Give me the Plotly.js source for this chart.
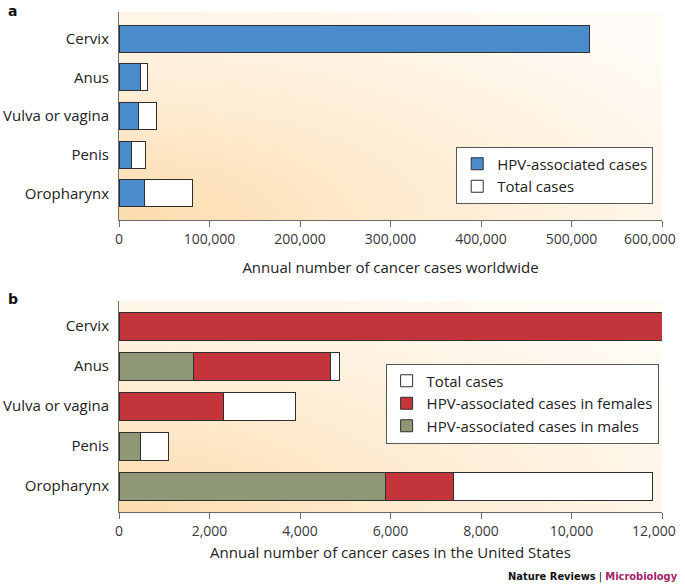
<!DOCTYPE html>
<html>
<head>
<meta charset="utf-8">
<script src="https://cdn.plot.ly/plotly-3.0.1.min.js"></script>
<style>
  html, body { margin: 0; padding: 0; background: #ffffff; }
  #chart { width: 685px; height: 586px; }
</style>
</head>
<body>
<div id="chart"></div>
<script>
// ---- Data ----
const categories = ["Cervix", "Anus", "Vulva or vagina", "Penis", "Oropharynx"];

// Panel a: worldwide
const worldHPV   = [520000, 24000, 21000, 14000, 28000];
const worldTotal = [520000, 32000, 41000, 29000, 81000];

// Panel b: United States
const usMale   = [0, 1640, 0, 480, 5880];
const usFemale = [12000, 3030, 2300, 0, 1510];
const usTotal  = [12000, 4880, 3890, 1090, 11790];

const worldTicks = [0, 100000, 200000, 300000, 400000, 500000, 600000];
const worldTickText = ["0", "100,000", "200,000", "300,000", "400,000", "500,000", "600,000"];
const usTicks = [0, 2000, 4000, 6000, 8000, 10000, 12000];
const usTickText = ["0", "2,000", "4,000", "6,000", "8,000", "10,000", "12,000"];

// ---- Derived stacks ----
const worldRest = worldTotal.map((t, i) => Math.max(t - worldHPV[i], 0));
const usRest = usTotal.map((t, i) => Math.max(t - usMale[i] - usFemale[i], 0));

// the last tick label is drawn as an annotation nudged left so it stays inside the page
const lastOf = a => a[a.length - 1];
const allButLast = a => a.map((t, i) => i === a.length - 1 ? "" : t);

const FONT = "'Open Sans', 'Noto Sans', sans-serif";
const TICKFONT = { family: FONT, size: 14, color: "#383838" };
const edge = { color: "#2e2e2e", width: 1 };

const traces = [
  { type: "bar", orientation: "h", y: categories, x: worldHPV, name: "HPV-associated cases",
    marker: { color: "#4a8bcb", line: edge }, xaxis: "x", yaxis: "y", legend: "legend" },
  { type: "bar", orientation: "h", y: categories, x: worldRest, name: "Total cases",
    marker: { color: "#ffffff", line: edge }, xaxis: "x", yaxis: "y", legend: "legend" },
  { type: "bar", orientation: "h", y: categories, x: usMale, name: "HPV-associated cases in males",
    marker: { color: "#8e9877", line: edge }, xaxis: "x2", yaxis: "y2", legend: "legend2" },
  { type: "bar", orientation: "h", y: categories, x: usFemale, name: "HPV-associated cases in females",
    marker: { color: "#c4343b", line: edge }, xaxis: "x2", yaxis: "y2", legend: "legend2" },
  { type: "bar", orientation: "h", y: categories, x: usRest, name: "Total cases",
    marker: { color: "#ffffff", line: edge }, xaxis: "x2", yaxis: "y2", legend: "legend2" }
];

const svg = "<svg xmlns='http://www.w3.org/2000/svg' width='100' height='100' preserveAspectRatio='none'>" +
  "<defs><radialGradient id='g' cx='0' cy='1' r='1.25'>" +
  "<stop offset='0' stop-color='#fcdcad'/><stop offset='0.45' stop-color='#feecd2'/>" +
  "<stop offset='1' stop-color='#fffbf6'/></radialGradient></defs>" +
  "<rect width='100' height='100' fill='url(#g)'/></svg>";
const bg = "data:image/svg+xml;charset=utf-8," + encodeURIComponent(svg);

const axisX = (ticks, labels, title, standoff) => ({
  range: [ticks[0], ticks[ticks.length - 1]],
  tickmode: "array", tickvals: ticks, ticktext: labels,
  showgrid: false, zeroline: false,
  showline: true, linecolor: "#6b6b6b", linewidth: 1,
  ticks: "outside", ticklen: 6, tickcolor: "#6b6b6b",
  tickfont: TICKFONT,
  title: { text: title, font: { family: FONT, size: 15, color: "#222" }, standoff: standoff },
  fixedrange: true
});
const axisY = (range, domain) => ({
  type: "category", range: range, domain: domain,
  showgrid: false, zeroline: false,
  showline: true, linecolor: "#6b6b6b", linewidth: 1,
  ticks: "", ticklabelstandoff: 6,
  tickfont: { family: FONT, size: 15, color: "#222" },
  fixedrange: true
});

const legendStyle = {
  bgcolor: "#ffffff", bordercolor: "#555", borderwidth: 1,
  font: { family: FONT, size: 15, color: "#222" },
  xanchor: "left", yanchor: "top"
};

const lastTick = (xref, yref, ticks, labels) => ({
  text: lastOf(labels), xref: xref, yref: yref, x: lastOf(ticks), y: 0,
  xanchor: "right", yanchor: "top", xshift: 16, yshift: -6.5,
  showarrow: false, font: TICKFONT
});

const layout = {
  width: 685, height: 586,
  margin: { l: 119, r: 23, t: 12, b: 74 },
  paper_bgcolor: "#ffffff", plot_bgcolor: "rgba(0,0,0,0)",
  barmode: "stack", bargap: 0.3,
  font: { family: FONT, color: "#222" },
  xaxis: Object.assign(axisX(worldTicks, allButLast(worldTickText), "Annual number of cancer cases worldwide", 15), { anchor: "y" }),
  yaxis: Object.assign(axisY([4.69, -0.69], [0.584, 1]), { anchor: "x" }),
  xaxis2: Object.assign(axisX(usTicks, allButLast(usTickText), "Annual number of cancer cases in the United States", 8), { anchor: "y2" }),
  yaxis2: Object.assign(axisY([4.65, -0.63], [0, 0.422]), { anchor: "x2" }),
  legend: Object.assign({}, legendStyle, { x: 0.621, y: 0.731, traceorder: "normal" }),
  legend2: Object.assign({}, legendStyle, { x: 0.491, y: 0.297, traceorder: "reversed" }),
  images: [
    { source: bg, xref: "paper", yref: "paper", x: 0, y: 1, sizex: 1, sizey: 0.416,
      xanchor: "left", yanchor: "top", sizing: "stretch", layer: "below" },
    { source: bg, xref: "paper", yref: "paper", x: 0, y: 0.422, sizex: 1, sizey: 0.422,
      xanchor: "left", yanchor: "top", sizing: "stretch", layer: "below" }
  ],
  annotations: [
    lastTick("x", "y domain", worldTicks, worldTickText),
    lastTick("x2", "y2 domain", usTicks, usTickText),
    { text: "<b>a</b>", xref: "paper", yref: "paper", x: -0.208, y: 1.022, xanchor: "left", yanchor: "top",
      showarrow: false, font: { family: "'DejaVu Sans', sans-serif", size: 14, color: "#111" } },
    { text: "<b>b</b>", xref: "paper", yref: "paper", x: -0.208, y: 0.446, xanchor: "left", yanchor: "top",
      showarrow: false, font: { family: "'DejaVu Sans', sans-serif", size: 14, color: "#111" } },
    { text: "<b>Nature Reviews</b> | <b><span style='color:#a3246a'>Microbiology</span></b>",
      xref: "paper", yref: "paper", x: 1.033, y: -0.128, xanchor: "right", yanchor: "middle",
      showarrow: false, font: { family: "'Liberation Sans Narrow', 'DejaVu Sans Condensed', 'Liberation Sans', sans-serif", size: 11, color: "#111" } }
  ]
};

Plotly.newPlot("chart", traces, layout, { displayModeBar: false, staticPlot: true });
</script>
</body>
</html>
